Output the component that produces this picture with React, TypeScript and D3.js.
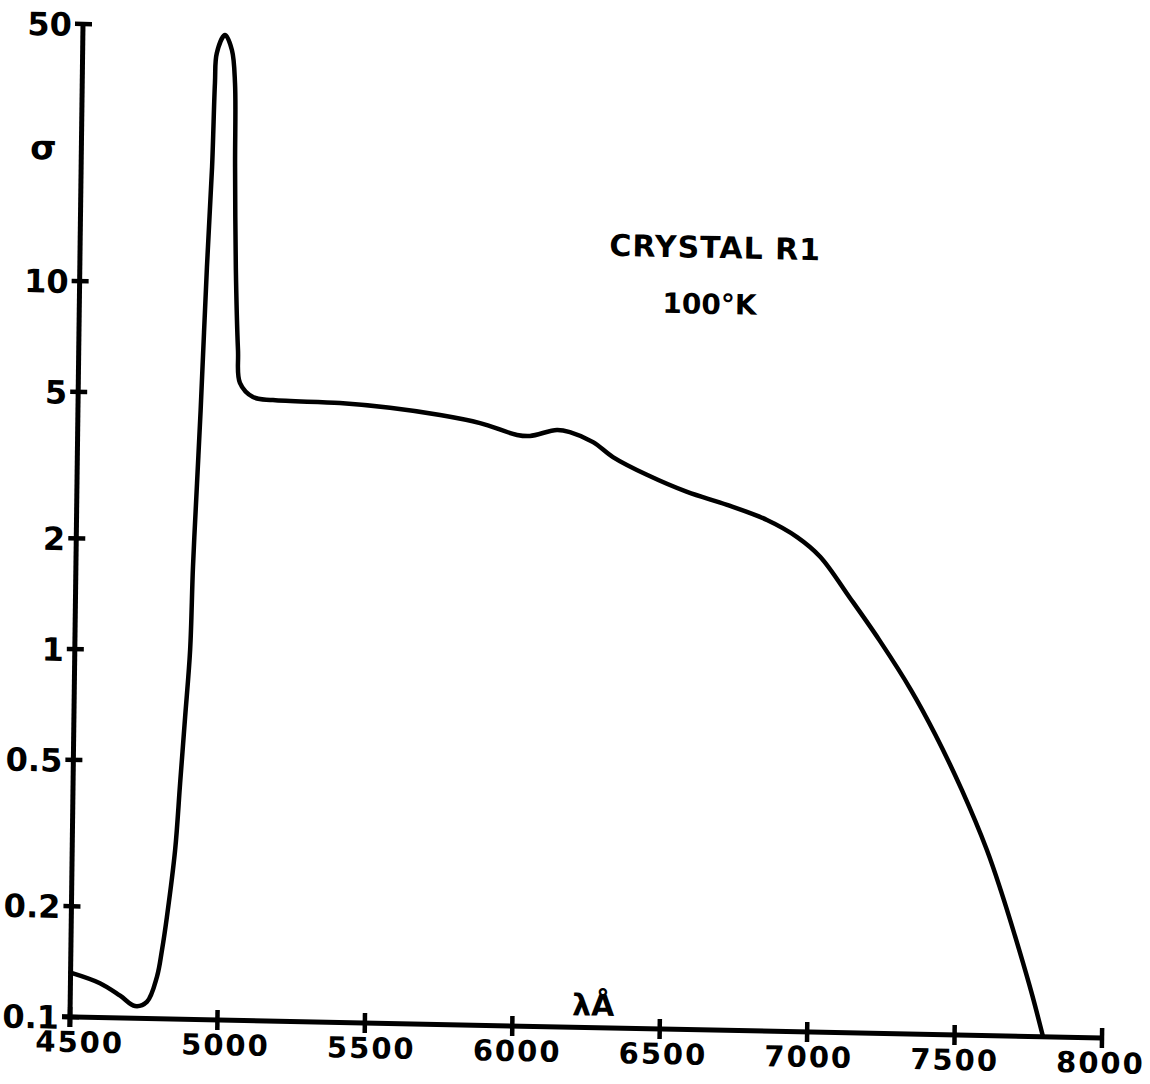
import React from 'react';
import * as d3 from 'd3';

const wavelengths = [4500, 4600, 4669, 4720, 4760, 4793, 4809, 4824, 4849, 4863, 4877, 4891, 4897, 4907, 4916, 4931, 4944, 4950, 4955, 4982, 5006, 5018, 5022, 5029, 5040, 5048, 5093, 5161, 5388, 5558, 5728, 5864, 5990, 6034, 6125, 6169, 6248, 6316, 6432, 6569, 6705, 6841, 6944, 7023, 7126, 7228, 7337, 7422, 7514, 7601, 7650, 7715, 7761, 7800];
const sigma = [0.132, 0.124, 0.115, 0.108, 0.111, 0.130, 0.154, 0.189, 0.288, 0.438, 0.663, 1.01, 1.70, 2.87, 4.53, 11.1, 20.8, 35.2, 42.4, 47.5, 43.3, 35.2, 20.8, 11.1, 6.63, 5.40, 4.95, 4.87, 4.82, 4.71, 4.53, 4.33, 4.04, 4.02, 4.19, 4.14, 3.90, 3.56, 3.20, 2.89, 2.68, 2.45, 2.21, 1.96, 1.52, 1.17, 0.861, 0.652, 0.463, 0.320, 0.249, 0.172, 0.130, 0.1];

const xTicks = [4500, 5000, 5500, 6000, 6500, 7000, 7500, 8000];
const xTickLabels = ['4500', '5000', '5500', '6000', '6500', '7000', '7500', '8000'];
const yTicks = [50, 10, 5, 2, 1, 0.5, 0.2, 0.1];
const yTickLabels = ['50', '10', '5', '2', '1', '0.5', '0.2', '0.1'];

const titleLines = ['CRYSTAL R1', '100°K'];
const yAxisLabel = 'σ';
const xAxisLabel = 'λÅ';

const W = 1032;
const H = 993;

export default function App() {
  const x = d3.scaleLinear().domain([4500, 8000]).range([0, W]);
  const y = d3.scaleLog().domain([0.1, 50]).range([H, 0]);
  const pts: [number, number][] = wavelengths.map((w, i) => [x(w), y(sigma[i])]);
  const line = d3.line<[number, number]>().x(d => d[0]).y(d => d[1]).curve(d3.curveCatmullRom.alpha(0.5));
  const font = '"DejaVu Sans", sans-serif';
  return (
    <svg width={1150} height={1084} style={{ position: 'absolute', left: 0, top: 0, background: '#fff' }}>
      <g transform="matrix(1 0.02035 -0.01309 1 83 24)" fontFamily={font} fontWeight="bold" fill="#000">
        {/* y axis */}
        <line x1={0} y1={0} x2={0} y2={H + 10} stroke="#000" strokeWidth={5} />
        {/* x axis */}
        <line x1={-8} y1={H} x2={W} y2={H} stroke="#000" strokeWidth={5} />
        {yTicks.map((t, i) => (
          <g key={'y' + i}>
            <line x1={-8} x2={9} y1={y(t)} y2={y(t)} stroke="#000" strokeWidth={4.5} />
            <text x={-11} y={y(t) + 12} textAnchor="end" fontSize={32}>{yTickLabels[i]}</text>
          </g>
        ))}
        {xTicks.map((t, i) => (
          <g key={'x' + i}>
            <line x1={x(t)} x2={x(t)} y1={H - 10} y2={H + 10} stroke="#000" strokeWidth={4.5} />
            <text x={x(t) + 10 - 1.6 * i} y={H + 35} textAnchor="middle" fontSize={29} letterSpacing={2}>{xTickLabels[i]}</text>
          </g>
        ))}
        <path d={line(pts) || ''} fill="none" stroke="#000" strokeWidth={4.5} strokeLinejoin="round" strokeLinecap="round" />
        <text x={-38} y={136} textAnchor="middle" fontSize={34}>{yAxisLabel}</text>
        <text x={523} y={H - 12} textAnchor="middle" fontSize={30}>{xAxisLabel}</text>
        <text x={635} y={221} textAnchor="middle" fontSize={30} letterSpacing={1}>{titleLines[0]}</text>
        <text x={630} y={277} textAnchor="middle" fontSize={28}>{titleLines[1]}</text>
      </g>
    </svg>
  );
}
